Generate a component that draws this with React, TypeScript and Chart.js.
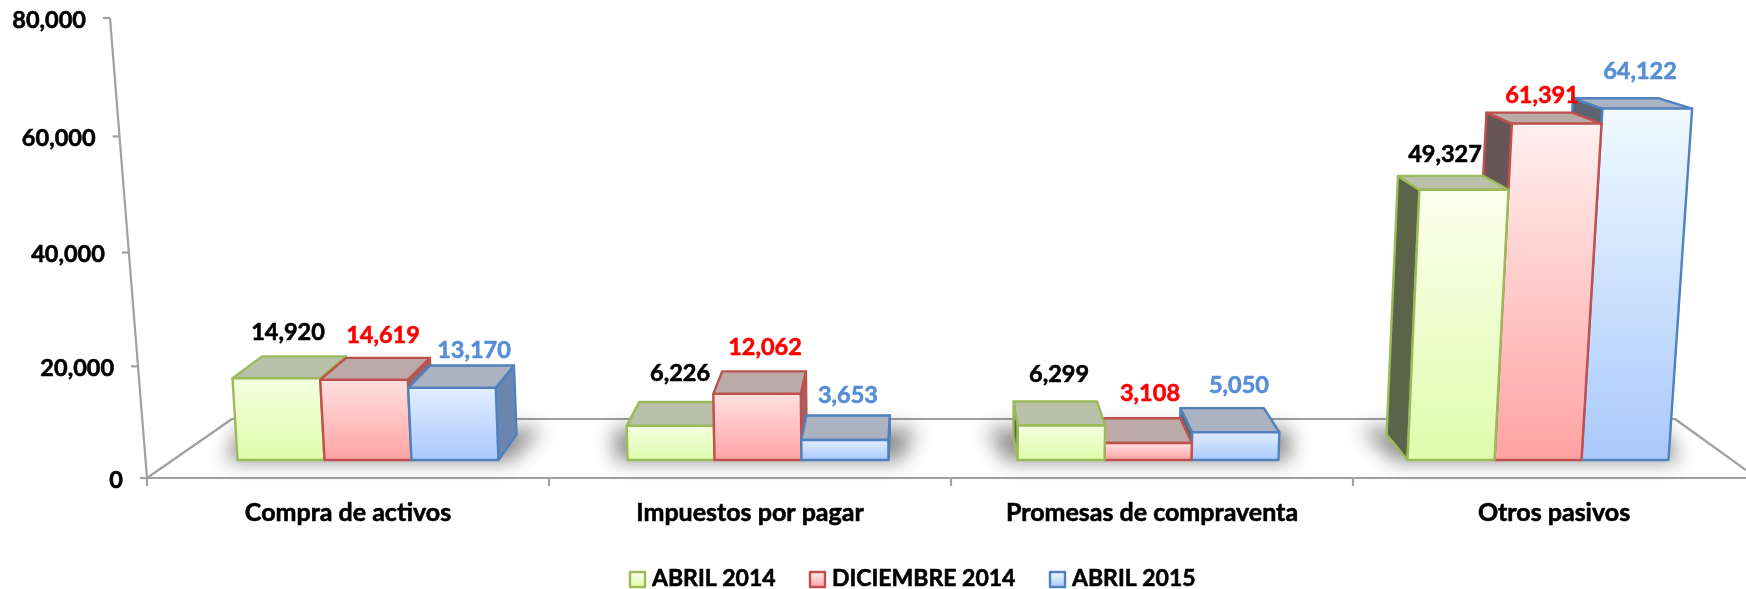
import React, { useEffect, useRef } from "react";
import { Chart, registerables } from "chart.js";

Chart.register(...registerables);

const categories = ["Compra de activos", "Impuestos por pagar", "Promesas de compraventa", "Otros pasivos"];
const seriesNames = ["ABRIL 2014", "DICIEMBRE 2014", "ABRIL 2015"];
const abril2014 = [14920, 6226, 6299, 49327];
const diciembre2014 = [14619, 12062, 3108, 61391];
const abril2015 = [13170, 3653, 5050, 64122];
const seriesValues = [abril2014, diciembre2014, abril2015];

const FONT = 'bold 23.5px Lato, "Noto Sans", sans-serif';
const CAT_FONT = 'bold 25px Lato, "Noto Sans", sans-serif';
const LEGEND_FONT = 'bold 23px Lato, "Noto Sans", sans-serif';
const GREY = "#a0a0a0";
const VP = { x: 920, y: -131 };
const DEPTH = 0.043;
const TILT = 9e-5;
const FRONT_SPREAD = 402 / 390;

const STYLES = [
  { stroke: "#9bbb59", topShort: "#f4ffdf", topTall: "#fdffee", bottom: "#dffcac", cap: "#b9c1aa", sideR: "#7d8f5c", sideL: "#5b6449", text: "#000000" },
  { stroke: "#c0504d", topShort: "#ffe0e0", topTall: "#fff0ee", bottom: "#ffa3a3", cap: "#bcaaa8", sideR: "#9a6565", sideL: "#665656", text: "#ff0000" },
  { stroke: "#4f81bd", topShort: "#e2edff", topTall: "#f0faff", bottom: "#a9c9fc", cap: "#abb3c3", sideR: "#6b86ae", sideL: "#5b6470", text: "#558ed5" },
];

// label placement relative to each bar's top: [series][category]
const LABEL_DX = [[7, 9, -2, -6], [15, 7, 2, 4], [19, 3, 4, 15]];
const LABEL_DY = [[-46, -52, -51, -35], [-44, -46, -50, -28], [-37, -45, -47, -37]];
const LEGEND_X = [630, 810, 1050];
const LEGEND_Y = 579;

type P = [number, number];
const back = ([x, y]: P): P => [x + (VP.x - x) * DEPTH, y + (VP.y - y) * DEPTH];

function poly(ctx: CanvasRenderingContext2D, pts: P[], fill: string | CanvasGradient, stroke?: string) {
  ctx.beginPath();
  pts.forEach(([x, y], i) => (i ? ctx.lineTo(x, y) : ctx.moveTo(x, y)));
  ctx.closePath();
  ctx.fillStyle = fill;
  ctx.fill();
  if (stroke) {
    ctx.strokeStyle = stroke;
    ctx.lineWidth = 2.4;
    ctx.lineJoin = "round";
    ctx.stroke();
  }
}

function line(ctx: CanvasRenderingContext2D, a: P, b: P) {
  ctx.beginPath();
  ctx.moveTo(a[0], a[1]);
  ctx.lineTo(b[0], b[1]);
  ctx.stroke();
}

function heavyText(ctx: CanvasRenderingContext2D, s: string, x: number, y: number, color: string) {
  ctx.fillStyle = color;
  ctx.strokeStyle = color;
  ctx.lineWidth = 0.6;
  ctx.fillText(s, x, y);
  ctx.strokeText(s, x, y);
}

const scene3d = {
  id: "scene3d",
  afterDatasetsDraw(chart: any) {
    const ctx: CanvasRenderingContext2D = chart.ctx;
    const axisY = chart.scales.yAxis;
    const xs = chart.scales.x;
    // the front edge of the floor is the bar plane, spread out by perspective
    const frontX = (v: number) => {
      const first = xs.getPixelForValue(-0.5);
      return 147 + (xs.getPixelForValue(v - 0.5) - first) * FRONT_SPREAD;
    };
    const floorY = axisY.getPixelForValue(0);
    const xLeft = frontX(0);
    const xRight = chart.width;

    ctx.save();
    ctx.lineCap = "butt";
    ctx.strokeStyle = GREY;
    ctx.lineWidth = 2.2;
    const backY = floorY - 59;
    line(ctx, [xLeft, floorY], [xRight, floorY]);
    line(ctx, [xLeft, floorY], [xLeft + 85, backY]);
    line(ctx, [xLeft + 85, backY], [1675, backY]);
    line(ctx, [1675, backY], [xRight, floorY - 8]);
    for (let i = 0; i < categories.length; i++) {
      const px = frontX(i);
      line(ctx, [px, floorY], [px, floorY + 8]);
    }
    const axisTop = axisY.getPixelForValue(80000);
    const span = floorY - axisTop;
    const warp = (py: number) => {
      const t = (py - axisTop) / span;
      return py + 18 * t * (1 - t);
    };
    const axisLineX = (py: number) => xLeft - ((floorY - py) * 37) / span;
    line(ctx, [axisLineX(axisTop), axisTop], [xLeft, floorY]);

    ctx.font = FONT;
    ctx.textBaseline = "middle";
    ctx.textAlign = "right";
    for (const tick of axisY.ticks) {
      const py = warp(axisY.getPixelForValue(tick.value));
      const lx = axisLineX(py);
      ctx.strokeStyle = GREY;
      ctx.lineWidth = 2.2;
      line(ctx, [lx - 7, py], [lx, py]);
      heavyText(ctx, tick.label, lx - 24, py + 2, "#000");
    }
    ctx.font = CAT_FONT;
    ctx.textAlign = "center";
    categories.forEach((c, i) => {
      heavyText(ctx, c, frontX(i + 0.5), floorY + 35, "#000");
    });

    // bars
    const metas = seriesValues.map((_, i) => chart.getDatasetMeta(i).data);
    categories.forEach((_, g) => {
      const first = metas[0][g];
      const last = metas[2][g];
      const halfW = first.width / 2;
      const gx0 = first.x - halfW;
      const gx1 = last.x + halfW;
      const base = first.base;

      // soft shadow on the floor
      ctx.save();
      ctx.filter = "blur(10px)";
      const f: P[] = [[gx0 - 12, base + 1], [gx1 + 12, base + 1]];
      poly(ctx, [f[0], f[1], back([gx1 + 28, base - 6]), back([gx0 - 28, base - 6])], "rgba(0,0,0,0.45)");
      ctx.restore();

      const order = gx1 < VP.x ? [0, 1, 2] : [2, 1, 0];
      for (const s of order) {
        const el = metas[s][g];
        const st = STYLES[s];
        const xl = el.x - el.width / 2;
        const xr = el.x + el.width / 2;
        const h = el.base - el.y;
        const tx = (x: number) => x + (x - VP.x) * TILT * h;
        const BL: P = [xl, el.base];
        const BR: P = [xr, el.base];
        const TL: P = [tx(xl), el.y];
        const TR: P = [tx(xr), el.y];
        if (xr < VP.x) poly(ctx, [TR, BR, back(BR), back(TR)], st.sideR, st.stroke);
        else poly(ctx, [TL, BL, back(BL), back(TL)], st.sideL, st.stroke);
        poly(ctx, [TL, TR, back(TR), back(TL)], st.cap, st.stroke);
        const grad = ctx.createLinearGradient(0, el.y, 0, el.base);
        grad.addColorStop(0, h > 150 ? st.topTall : st.topShort);
        grad.addColorStop(1, st.bottom);
        poly(ctx, [TL, TR, BR, BL], grad, st.stroke);
      }
    });

    // value labels
    ctx.font = FONT;
    ctx.textAlign = "center";
    seriesValues.forEach((vals, s) => {
      vals.forEach((v, g) => {
        const el = metas[s][g];
        heavyText(ctx, v.toLocaleString("en-US"), el.x + LABEL_DX[s][g], el.y + LABEL_DY[s][g], STYLES[s].text);
      });
    });

    // legend
    ctx.font = LEGEND_FONT;
    ctx.textAlign = "left";
    seriesNames.forEach((name, i) => {
      const x = LEGEND_X[i];
      const st = STYLES[i];
      const grad = ctx.createLinearGradient(0, LEGEND_Y - 7, 0, LEGEND_Y + 8);
      grad.addColorStop(0, st.topTall);
      grad.addColorStop(1, st.bottom);
      poly(ctx, [[x, LEGEND_Y - 7], [x + 15, LEGEND_Y - 7], [x + 15, LEGEND_Y + 8], [x, LEGEND_Y + 8]], grad, st.stroke);
      heavyText(ctx, name, x + 22, LEGEND_Y, "#000");
    });
    ctx.restore();
  },
};

export default function App() {
  const ref = useRef<HTMLCanvasElement>(null);
  useEffect(() => {
    const chart = new Chart(ref.current!, {
      type: "bar",
      data: {
        labels: categories,
        datasets: seriesNames.map((name, i) => ({
          label: name,
          data: seriesValues[i],
          backgroundColor: "rgba(0,0,0,0)",
          borderWidth: 0,
          yAxisID: "y",
          xAxisID: "x",
          categoryPercentage: 0.669,
          barPercentage: 1,
        })),
      },
      plugins: [scene3d],
      options: {
        responsive: false,
        animation: false,
        locale: "en-US",
        devicePixelRatio: 1,
        layout: { padding: { left: 173, right: 13, top: 18, bottom: 0 } },
        scales: {
          x: {
            type: "category",
            position: "bottom",
            grid: { display: false },
            border: { display: false },
            ticks: { display: false },
            afterFit: (s: any) => { s.height = 111; },
          },
          y: { type: "linear", display: false, min: -3285, max: 80657 },
          yAxis: {
            type: "linear",
            position: "left",
            display: false,
            min: 0,
            max: 80000,
            ticks: { stepSize: 20000 },
          },
        },
        plugins: {
          tooltip: { enabled: false },
          legend: { display: false },
        },
      } as any,
    });
    return () => chart.destroy();
  }, []);
  return (
    <div style={{ position: "fixed", left: 0, top: 0, width: 1746, height: 589, background: "#fff" }}>
      <canvas ref={ref} width={1746} height={589} style={{ display: "block" }} />
    </div>
  );
}
